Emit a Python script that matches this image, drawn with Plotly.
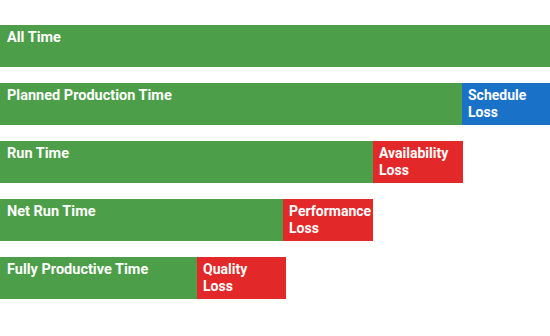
import plotly.graph_objects as go

categories = ["All Time", "Planned Production Time", "Run Time", "Net Run Time", "Fully Productive Time"]
productive = [550, 462, 373, 283, 197]
losses = [0, 88, 90, 90, 89]
loss_line1 = ["", "Schedule", "Availability", "Performance", "Quality"]
loss_line2 = ["", "Loss", "Loss", "Loss", "Loss"]

GREEN = "#4c9e48"
BLUE = "#1a72c8"
RED = "#e3282a"
loss_colors = [GREEN, BLUE, RED, RED, RED]

FONT = "Roboto, Lato, sans-serif"
BW = 0.72
ys = list(range(len(categories)))

fig = go.Figure()
fig.add_trace(go.Bar(
    y=ys, x=productive, base=[0] * len(productive), orientation="h",
    width=BW, marker=dict(color=GREEN, line=dict(width=0)),
    hoverinfo="skip", showlegend=False,
))
fig.add_trace(go.Bar(
    y=ys, x=losses, base=productive, orientation="h",
    width=BW, marker=dict(color=loss_colors, line=dict(width=0)),
    hoverinfo="skip", showlegend=False,
))

font = dict(family=FONT, size=14.5, color="white", weight="bold")
loss_font = dict(family=FONT, size=14, color="white", weight="bold")
for i, cat in enumerate(categories):
    fig.add_annotation(
        x=0, y=i - BW / 2, xref="x", yref="y", text=cat, showarrow=False,
        xanchor="left", yanchor="top", xshift=5, yshift=-2, font=font,
    )
    if losses[i] > 0:
        fig.add_annotation(
            x=productive[i], y=i - BW / 2, xref="x", yref="y", text=loss_line1[i],
            showarrow=False, xanchor="left", yanchor="top", xshift=4, yshift=-2, font=loss_font,
        )
        fig.add_annotation(
            x=productive[i], y=i - BW / 2, xref="x", yref="y", text=loss_line2[i],
            showarrow=False, xanchor="left", yanchor="top", xshift=4, yshift=-19, font=loss_font,
        )

fig.update_layout(
    width=550, height=336,
    margin=dict(l=0, r=0, t=0, b=0),
    paper_bgcolor="white", plot_bgcolor="white",
    barmode="overlay",
    xaxis=dict(range=[0, 550], visible=False, fixedrange=True),
    yaxis=dict(range=[5.0, -0.793], visible=False, fixedrange=True),
)

fig.write_html("out.html")
